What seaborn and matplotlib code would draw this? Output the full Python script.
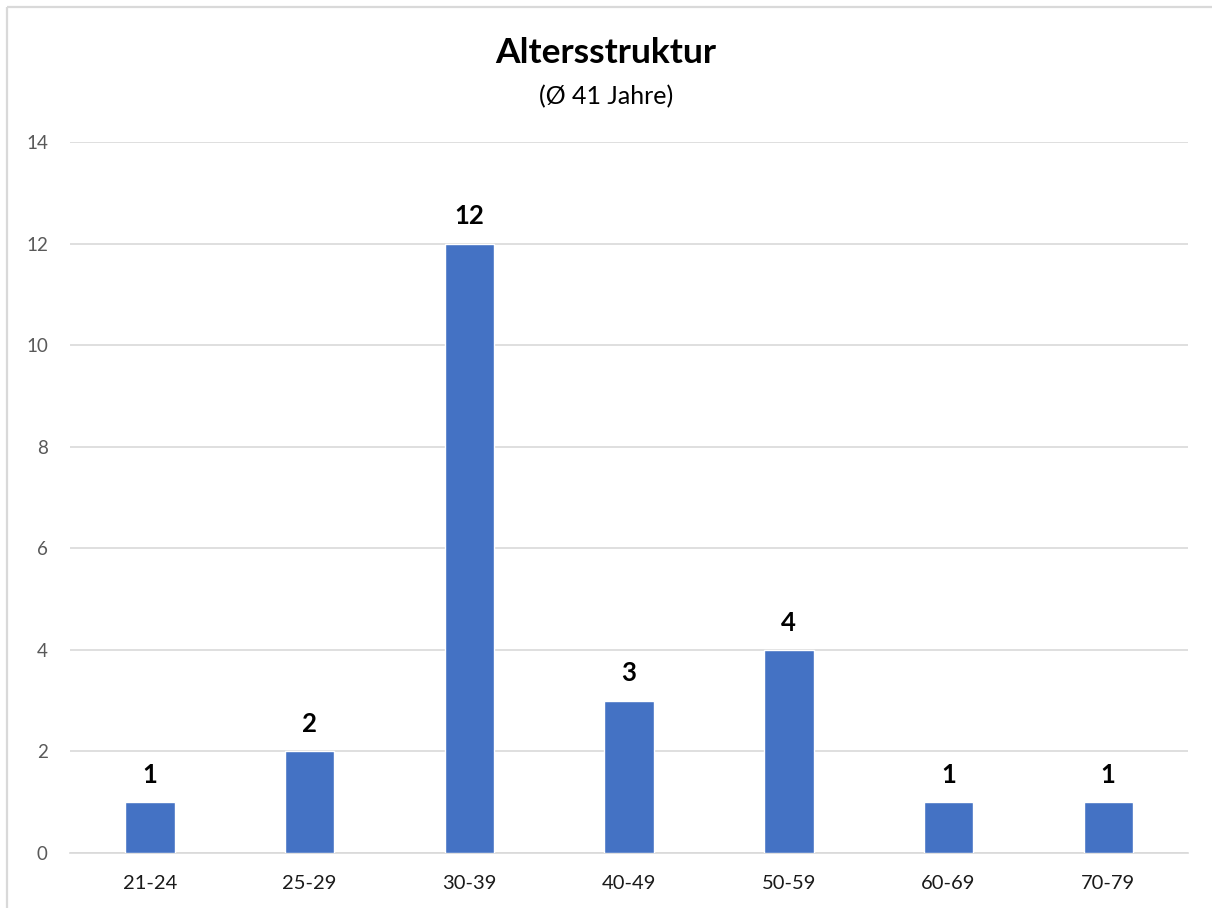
import matplotlib
matplotlib.use("Agg")
import matplotlib.pyplot as plt
import seaborn as sns
import pandas as pd
from matplotlib.lines import Line2D

# Age groups and headcount per group
age_groups = ["21-24", "25-29", "30-39", "40-49", "50-59", "60-69", "70-79"]
counts = [1, 2, 12, 3, 4, 1, 1]
y_ticks = [0, 2, 4, 6, 8, 10, 12, 14]

title = "Altersstruktur"
subtitle = "(Ø 41 Jahre)"

sns.set_theme(style="white")
plt.rcParams["font.family"] = ["Lato", "DejaVu Sans"]

df = pd.DataFrame({"Altersgruppe": age_groups, "Anzahl": counts})

fig = plt.figure(figsize=(12.12, 9.08), dpi=100)
ax = fig.add_axes([0.0578, 0.0606, 0.9225, 0.783])

sns.barplot(data=df, x="Altersgruppe", y="Anzahl", color="#4472C4",
            saturation=1, width=0.31, ax=ax, zorder=3)

ax.set_ylim(0, 14)
ax.set_yticks(y_ticks)
ax.set_xlim(-0.5, len(age_groups) - 0.5)
ax.yaxis.grid(True, color="#D9D9D9", linewidth=1.2, zorder=0)
ax.set_axisbelow(True)
for s in ["top", "right", "left"]:
    ax.spines[s].set_visible(False)
ax.spines["bottom"].set_color("#D9D9D9")
ax.spines["bottom"].set_linewidth(1.2)
ax.set_xlabel("")
ax.set_ylabel("")
ax.tick_params(axis="y", length=0, labelsize=13.5, labelcolor="#595959", pad=16)
ax.tick_params(axis="x", length=0, labelsize=14.5, labelcolor="#1a1a1a", pad=16)

for c in ax.containers:
    ax.bar_label(c, labels=[str(v) for v in counts], padding=11,
                 fontsize=18.5, fontweight="bold", color="#000000")

fig.text(0.5, 0.942, title, ha="center", va="center", fontsize=25.5,
         fontweight="bold", color="#000000")
fig.text(0.5, 0.894, subtitle, ha="center", va="center", fontsize=18,
         color="#000000")

# light chart-area frame (left and top edges, running off the canvas)
x0, y0 = 0.0058, 0.9920
fig.lines.append(Line2D([x0, x0], [-0.05, y0], transform=fig.transFigure,
                        color="#D9D9D9", linewidth=1.6,
                        solid_capstyle="butt", clip_on=False))
fig.lines.append(Line2D([x0, 1.05], [y0, y0], transform=fig.transFigure,
                        color="#D9D9D9", linewidth=1.6,
                        solid_capstyle="butt", clip_on=False))

fig.savefig("out.png", dpi=100, facecolor="white")
